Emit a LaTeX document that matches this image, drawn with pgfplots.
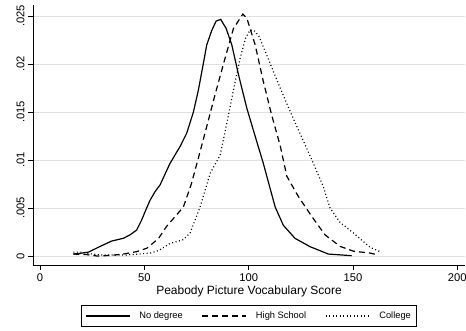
\documentclass[border=0pt]{standalone}
\usepackage{fontspec}
\setmainfont{Liberation Sans}
\usepackage{pgfplots}
\pgfplotsset{compat=1.18}
\begin{document}
\begin{tikzpicture}
\begin{axis}[
 scale only axis, width=432pt, height=260pt,
 xmin=-3.4, xmax=203.7, ymin=-0.00094, ymax=0.02615,
 axis x line*=bottom, axis y line*=left,
 axis line style={line width=0.8pt},
 xtick={0,50,100,150,200}, xticklabels={0,50,100,150,200},
 ytick={0,0.005,0.01,0.015,0.02,0.025}, yticklabels={0,.005,.01,.015,.02,.025},
 scaled y ticks=false,
 tick align=outside, major tick length=5pt, tick style={black, line width=0.8pt},
 ymajorgrids, grid style={black!12, line width=0.8pt},
 ticklabel style={font=\fontsize{11.2}{13}\selectfont},
 yticklabel style={rotate=90, anchor=south},
 xlabel={Peabody Picture Vocabulary Score},
 xlabel style={font=\fontsize{12}{14}\selectfont, yshift=3pt},
 legend columns=3,
 legend style={at={(0.5,-0.1538)}, anchor=north, draw=black, line width=0.8pt,
   font=\fontsize{9.3}{11}\selectfont, inner xsep=4pt, inner ysep=2pt,
   nodes={inner ysep=4.5pt},
   /tikz/every odd column/.append style={column sep=7pt},
   /tikz/every even column/.append style={column sep=17pt}},
 legend image code/.code={\draw[#1] (0pt,0pt) -- (44pt,0pt);},
 /pgf/number format/assume math mode=true,
]
\addplot[black, line width=1.2pt] coordinates {
(16,0.0002) (20,0.0003) (23.2,0.0004) (28.8,0.001) (34.4,0.00156) (39.9,0.00184)
(43.1,0.0022) (46.3,0.0027) (48.7,0.00375) (50.3,0.0046) (52.7,0.0058) (55.1,0.0067)
(57.5,0.0074) (62.3,0.00966) (67.1,0.0114) (70.3,0.0128) (73.5,0.0150) (75.9,0.0173)
(78.3,0.0201) (79.9,0.022) (82.3,0.0235) (84.4,0.02448) (86.6,0.02465) (89.2,0.0237)
(91.9,0.022) (95.1,0.0189) (99.1,0.0154) (103.9,0.0119) (107,0.00966) (112.7,0.0051)
(116.6,0.0032) (122.2,0.00184) (129.4,0.00097) (138.2,0.0002) (149.4,0.00003)};
\addlegendentry{No degree}
\addplot[black, line width=1.2pt, dash pattern=on 6pt off 4pt] coordinates {
(16,0.0002) (22,0.00015) (27.2,0.0) (33.6,0.00005) (39.9,0.0002) (46.3,0.00045)
(51.1,0.0008) (56.7,0.0018) (60.7,0.0031) (64.7,0.0041) (68.7,0.0051) (72.5,0.0075)
(76,0.0103) (79.9,0.0135) (83.5,0.0165) (87.9,0.0200) (92.7,0.0237) (97.2,0.0252)
(99.1,0.0248) (103.1,0.022) (107,0.0182) (111,0.0147) (115.1,0.0115) (118.3,0.0083)
(123.8,0.0062) (130.3,0.0041) (136.6,0.0022) (143.8,0.001) (150.2,0.0005) (158.2,0.0003)
(162.2,0.0001)};
\addlegendentry{High School}
\addplot[black, line width=1.2pt, dash pattern=on 1pt off 2.5pt] coordinates {
(16,0.0004) (20,0.0004) (25,0.0002) (30,0.0001) (35,0.0001) (41.5,0.0001) (47,0.0002)
(52.7,0.0003) (56.7,0.00055) (62.3,0.0013) (68.7,0.0017) (71.9,0.0024) (76.7,0.0051)
(81.5,0.0086) (86.3,0.0105) (89.5,0.0138) (92.7,0.0173) (95.9,0.0206) (98.5,0.0227)
(100.7,0.02354) (102.5,0.0235) (104.7,0.023) (108.7,0.0209) (115.1,0.0175) (121.4,0.0143)
(126.2,0.0120) (130.3,0.0100) (135.8,0.0072) (139,0.0050) (143.8,0.0035) (150.2,0.0024)
(158.2,0.0009) (163,0.00045)};
\addlegendentry{College}
\end{axis}
\pgfresetboundingbox
\useasboundingbox (-33pt,-66pt) rectangle (433pt,265pt);
\end{tikzpicture}
\end{document}
